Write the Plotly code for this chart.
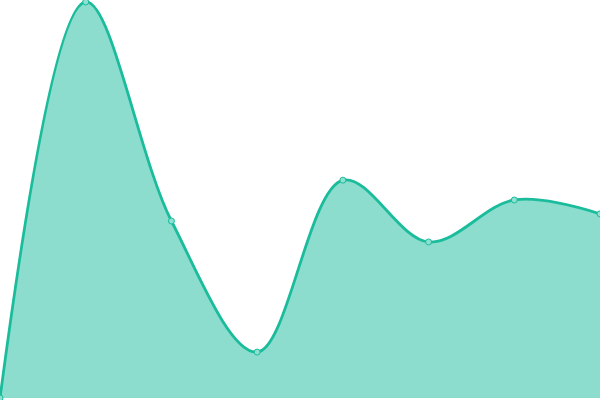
import plotly.graph_objects as go

# data
labels = [0, 1, 2, 3, 4, 5, 6, 7]
values = [0, 100, 44.7, 11.6, 55, 39.4, 50, 46.5]

line_color = '#1abc9c'
fill_color = 'rgba(26,188,156,0.5)'

fig = go.Figure()

fig.add_trace(go.Scatter(
    x=labels, y=values,
    mode='lines+markers',
    line=dict(color=line_color, width=2.8, shape='spline', smoothing=1),
    fill='tozeroy',
    fillcolor=fill_color,
    marker=dict(size=6, color='#8ee0d0', line=dict(color=line_color, width=1)),
    hoverinfo='x+y',
))

fig.update_layout(
    width=600, height=400,
    margin=dict(l=0, r=0, t=0, b=0),
    paper_bgcolor='white',
    plot_bgcolor='white',
    showlegend=False,
    xaxis=dict(range=[0, 7], visible=False, fixedrange=True),
    yaxis=dict(range=[-0.5, 100.5], visible=False, fixedrange=True),
)

# the page body has a default 8px margin, drop it so the chart fills the window
fig.write_html("out.html", config={'displayModeBar': False},
               post_script="document.body.style.margin='0';document.body.style.overflow='hidden';")
